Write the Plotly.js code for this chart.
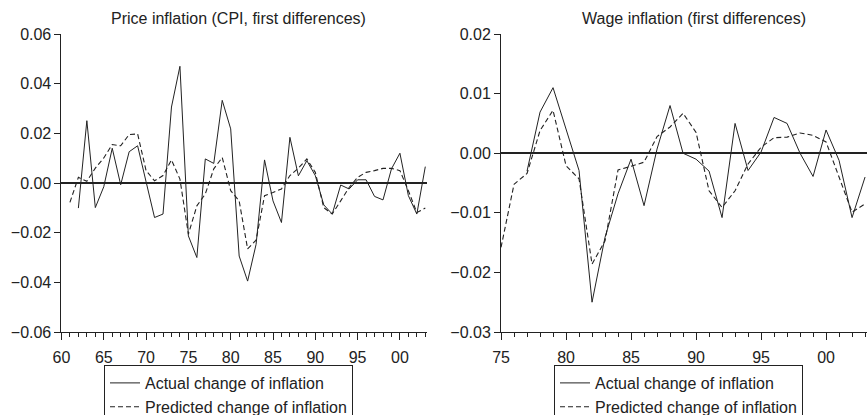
<!DOCTYPE html>
<html>
<head>
<meta charset="utf-8">
<script src="https://cdn.plot.ly/plotly-3.0.1.min.js"></script>
<style>html,body{margin:0;padding:0;background:#fff;}#chart{width:867px;height:415px;}</style>
</head>
<body>
<div id="chart"></div>
<script>
// ---- Data ----
const priceActualStart = 1962;
const priceActual = [-0.0101, 0.0251, -0.0099, -0.0015, 0.0140, -0.0007, 0.0126, 0.0150, 0.0005, -0.0139,
  -0.0125, 0.0306, 0.0470, -0.0213, -0.0300, 0.0097, 0.0079, 0.0333, 0.0218, -0.0294,
  -0.0395, -0.0247, 0.0093, -0.0072, -0.0159, 0.0184, 0.0029, 0.0090, 0.0030, -0.0088,
  -0.0125, -0.0008, -0.0024, 0.0013, 0.0013, -0.0054, -0.0068, 0.0057, 0.0120, -0.0051,
  -0.0125, 0.0066];
const pricePredStart = 1961;
const pricePred = [-0.0078, 0.0023, 0.0007, 0.0060, 0.0101, 0.0155, 0.0150, 0.0195, 0.0198, 0.0050,
  0.0009, 0.0030, 0.0093, 0.0016, -0.0206, -0.0092, -0.0044, 0.0057, 0.0103, -0.0031,
  -0.0072, -0.0265, -0.0230, -0.0051, -0.0038, -0.0024, 0.0030, 0.0060, 0.0097, 0.0043,
  -0.0099, -0.0125, -0.0072, -0.0018, 0.0023, 0.0043, 0.0050, 0.0059, 0.0059, 0.0050,
  -0.0031, -0.0119, -0.0101];
const wageActualStart = 1977;
const wageActual = [-0.0030, 0.0069, 0.0110, 0.0042, -0.0029, -0.0250, -0.0141, -0.0068, -0.0010, -0.0088,
  0.0007, 0.0080, 0.0000, -0.0010, -0.0030, -0.0108, 0.0050, -0.0029, 0.0002, 0.0060,
  0.0050, 0.0000, -0.0039, 0.0039, -0.0012, -0.0108, -0.0040];
const wagePredStart = 1975;
const wagePred = [-0.0158, -0.0052, -0.0034, 0.0038, 0.0072, -0.0021, -0.0043, -0.0186, -0.0147, -0.0028,
  -0.0022, -0.0015, 0.0028, 0.0044, 0.0067, 0.0035, -0.0063, -0.0091, -0.0063, -0.0018,
  0.0010, 0.0026, 0.0027, 0.0034, 0.0030, 0.0019, -0.0040, -0.0099, -0.0085];

const priceTickYears = [1960, 1965, 1970, 1975, 1980, 1985, 1990, 1995, 2000];
const priceTickText = ['60', '65', '70', '75', '80', '85', '90', '95', '00'];
const wageTickYears = [1975, 1980, 1985, 1990, 1995, 2000];
const wageTickText = ['75', '80', '85', '90', '95', '00'];
const priceYTicks = [-0.06, -0.04, -0.02, 0.00, 0.02, 0.04, 0.06];
const wageYTicks = [-0.03, -0.02, -0.01, 0.00, 0.01, 0.02];

const titles = ['Price inflation (CPI, first differences)', 'Wage inflation (first differences)'];
const seriesNames = ['Actual change of inflation', 'Predicted change of inflation'];

// ---- Build ----
function years(start, arr) { return arr.map((_, i) => start + i); }

const INK = '#222';
const FONT = 'Liberation Sans, Arial, Helvetica, sans-serif';
const solid = {color: INK, width: 1};
const dashed = {color: INK, width: 1.1, dash: '5px,3px'};

const traces = [
  {x: years(priceActualStart, priceActual), y: priceActual, type: 'scatter', mode: 'lines',
   name: seriesNames[0], line: solid, xaxis: 'x', yaxis: 'y', legend: 'legend'},
  {x: years(pricePredStart, pricePred), y: pricePred, type: 'scatter', mode: 'lines',
   name: seriesNames[1], line: dashed, xaxis: 'x', yaxis: 'y', legend: 'legend'},
  {x: years(wageActualStart, wageActual), y: wageActual, type: 'scatter', mode: 'lines',
   name: seriesNames[0], line: solid, xaxis: 'x2', yaxis: 'y2', legend: 'legend2'},
  {x: years(wagePredStart, wagePred), y: wagePred, type: 'scatter', mode: 'lines',
   name: seriesNames[1], line: dashed, xaxis: 'x2', yaxis: 'y2', legend: 'legend2'}
];

function xAxis(domain, range, vals, text, start, anchor) {
  return {
    domain: domain, range: range, anchor: anchor,
    showline: true, linecolor: INK, linewidth: 1,
    showgrid: false, zeroline: false,
    tickmode: 'array', tickvals: vals, ticktext: text,
    ticks: 'outside', ticklen: 7, tickwidth: 1, tickcolor: INK,
    ticklabelstandoff: 4,
    tickfont: {family: FONT, size: 16, color: INK},
    minor: {tickmode: 'linear', tick0: start, dtick: 1, ticks: 'outside', ticklen: 4, tickwidth: 1, tickcolor: INK, showgrid: false},
    automargin: false, fixedrange: true
  };
}
function yAxis(domain, range, vals, anchor) {
  return {
    domain: domain, range: range, anchor: anchor,
    showline: true, linecolor: INK, linewidth: 1,
    showgrid: false, zeroline: true, zerolinecolor: INK, zerolinewidth: 1.5,
    tickmode: 'array', tickvals: vals, tickformat: '.2f',
    ticks: 'outside', ticklen: 6, tickwidth: 1, tickcolor: INK,
    tickfont: {family: FONT, size: 16, color: INK},
    automargin: false, fixedrange: true
  };
}

const yDom = [0.2, 0.918];
const legendBase = {
  bgcolor: '#fff', bordercolor: INK, borderwidth: 1,
  font: {family: FONT, size: 16, color: INK},
  xref: 'container', yref: 'container',
  yanchor: 'top', xanchor: 'left', y: 1 - 365 / 415, tracegroupgap: 0, itemwidth: 30
};

const layout = {
  width: 867, height: 415,
  margin: {l: 0, r: 0, t: 0, b: 0, autoexpand: false},
  paper_bgcolor: '#fff', plot_bgcolor: '#fff',
  font: {family: FONT, color: INK},
  xaxis: xAxis([0.0709, 0.4925], [1960, 2003.2], priceTickYears, priceTickText, 1960, 'y'),
  yaxis: yAxis(yDom, [-0.06, 0.06], priceYTicks, 'x'),
  xaxis2: xAxis([0.5779, 1.0], [1975, 2003.15], wageTickYears, wageTickText, 1975, 'y2'),
  yaxis2: yAxis(yDom, [-0.03, 0.02], wageYTicks, 'x2'),
  legend: Object.assign({}, legendBase, {x: 104 / 867}),
  legend2: Object.assign({}, legendBase, {x: 554 / 867}),
  showlegend: true,
  annotations: [
    {text: titles[0], xref: 'paper', yref: 'paper', x: 238 / 867, y: 1 - 18 / 415,
     xanchor: 'center', yanchor: 'middle', showarrow: false, font: {family: FONT, size: 16, color: INK}},
    {text: titles[1], xref: 'paper', yref: 'paper', x: 694 / 867, y: 1 - 18 / 415,
     xanchor: 'center', yanchor: 'middle', showarrow: false, font: {family: FONT, size: 16, color: INK}}
  ]
};

Plotly.newPlot('chart', traces, layout, {displayModeBar: false, staticPlot: true});
</script>
</body>
</html>
